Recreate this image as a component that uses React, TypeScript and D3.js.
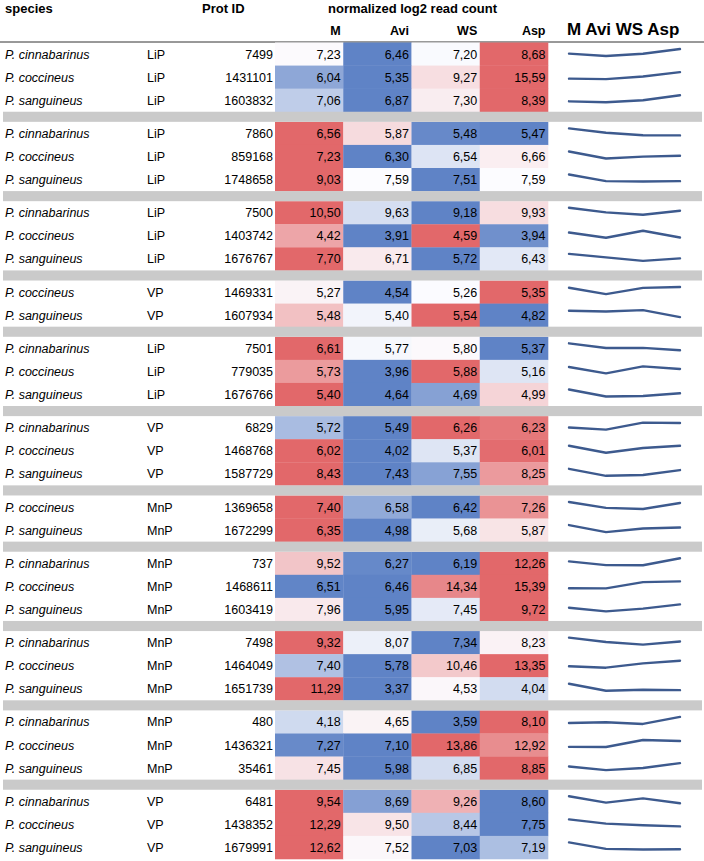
import React from "react";
import * as d3 from "d3";

const columns = ["M", "Avi", "WS", "Asp"];
const groupSizes = [3, 3, 3, 2, 3, 3, 2, 3, 3, 3, 3];

const species = [
  "P. cinnabarinus", "P. coccineus", "P. sanguineus",
  "P. cinnabarinus", "P. coccineus", "P. sanguineus",
  "P. cinnabarinus", "P. coccineus", "P. sanguineus",
  "P. coccineus", "P. sanguineus",
  "P. cinnabarinus", "P. coccineus", "P. sanguineus",
  "P. cinnabarinus", "P. coccineus", "P. sanguineus",
  "P. coccineus", "P. sanguineus",
  "P. cinnabarinus", "P. coccineus", "P. sanguineus",
  "P. cinnabarinus", "P. coccineus", "P. sanguineus",
  "P. cinnabarinus", "P. coccineus", "P. sanguineus",
  "P. cinnabarinus", "P. coccineus", "P. sanguineus",
];

const types = [
  "LiP", "LiP", "LiP",
  "LiP", "LiP", "LiP",
  "LiP", "LiP", "LiP",
  "VP", "VP",
  "LiP", "LiP", "LiP",
  "VP", "VP", "VP",
  "MnP", "MnP",
  "MnP", "MnP", "MnP",
  "MnP", "MnP", "MnP",
  "MnP", "MnP", "MnP",
  "VP", "VP", "VP",
];

const protIds = [
  "7499", "1431101", "1603832",
  "7860", "859168", "1748658",
  "7500", "1403742", "1676767",
  "1469331", "1607934",
  "7501", "779035", "1676766",
  "6829", "1468768", "1587729",
  "1369658", "1672299",
  "737", "1468611", "1603419",
  "7498", "1464049", "1651739",
  "480", "1436321", "35461",
  "6481", "1438352", "1679991",
];

const mVals = [
  7.23, 6.04, 7.06,
  6.56, 7.23, 9.03,
  10.5, 4.42, 7.7,
  5.27, 5.48,
  6.61, 5.73, 5.4,
  5.72, 6.02, 8.43,
  7.4, 6.35,
  9.52, 6.51, 7.96,
  9.32, 7.4, 11.29,
  4.18, 7.27, 7.45,
  9.54, 12.29, 12.62,
];
const aviVals = [
  6.46, 5.35, 6.87,
  5.87, 6.3, 7.59,
  9.63, 3.91, 6.71,
  4.54, 5.4,
  5.77, 3.96, 4.64,
  5.49, 4.02, 7.43,
  6.58, 4.98,
  6.27, 6.46, 5.95,
  8.07, 5.78, 3.37,
  4.65, 7.1, 5.98,
  8.69, 9.5, 7.52,
];
const wsVals = [
  7.2, 9.27, 7.3,
  5.48, 6.54, 7.51,
  9.18, 4.59, 5.72,
  5.26, 5.54,
  5.8, 5.88, 4.69,
  6.26, 5.37, 7.55,
  6.42, 5.68,
  6.19, 14.34, 7.45,
  7.34, 10.46, 4.53,
  3.59, 13.86, 6.85,
  9.26, 8.44, 7.03,
];
const aspVals = [
  8.68, 15.59, 8.39,
  5.47, 6.66, 7.59,
  9.93, 3.94, 6.43,
  5.35, 4.82,
  5.37, 5.16, 4.99,
  6.23, 6.01, 8.25,
  7.26, 5.87,
  12.26, 15.39, 9.72,
  8.23, 13.35, 4.04,
  8.1, 12.92, 8.85,
  8.6, 7.75, 7.19,
];

const FONT = "'Liberation Sans', Arial, sans-serif";
const BLUE = "#5F83C6";
const WHITE = "#FCFCFF";
const RED = "#E2686A";

export default function App() {
  const width = 704;
  const height = 861;
  const top = 42.5;
  const rowH = 23.08;
  const gapH = 10.1;

  // compute row tops & band positions
  const rowTops: number[] = [];
  const bands: number[] = [];
  let y = top;
  groupSizes.forEach((n, gi) => {
    for (let i = 0; i < n; i++) {
      rowTops.push(y);
      y += rowH;
    }
    if (gi < groupSizes.length - 1) {
      bands.push(y);
      y += gapH;
    }
  });

  const xCell = d3.scaleBand<string>().domain(columns).range([275, 548]).padding(0);
  const xSpark = d3.scalePoint<string>().domain(columns).range([569, 680]);

  const fmt = (v: number) => v.toFixed(2).replace(".", ",");

  const rows = species.map((sp, i) => {
    const vals = [mVals[i], aviVals[i], wsVals[i], aspVals[i]];
    const mn = d3.min(vals) as number;
    const mx = d3.max(vals) as number;
    const md = d3.median(vals) as number;
    const color = d3
      .scaleLinear<string>()
      .domain([mn, md, mx])
      .range([BLUE, WHITE, RED])
      .interpolate(d3.interpolateRgb);
    const t = rowTops[i];
    const c = t + rowH / 2;
    const ySp = d3.scaleLinear().domain([mn, mx]).range([c + 2, c - 5]);
    const line = d3
      .line<number>()
      .x((_, k) => xSpark(columns[k]) as number)
      .y((v) => ySp(v));
    return { sp, i, vals, color, t, c, line: line(vals) as string };
  });

  return (
    <svg width={width} height={height} style={{ position: "absolute", left: 0, top: 0, background: "#fff" }}>
      <rect x={0} y={0} width={width} height={height} fill="#fff" />
      {/* header */}
      <g fontFamily={FONT} fontWeight="bold" fill="#000">
        <text x={5} y={13} fontSize={13}>species</text>
        <text x={202} y={13} fontSize={13}>Prot ID</text>
        <text x={328} y={13} fontSize={13}>normalized log2 read count</text>
        {columns.map((col) => (
          <text key={col} x={(xCell(col) as number) + xCell.bandwidth() - 2.5} y={35} fontSize={12.5} textAnchor="end">
            {col}
          </text>
        ))}
        <text x={567} y={35} fontSize={17}>M Avi WS Asp</text>
      </g>
      <line x1={0} x2={width} y1={42} y2={42} stroke="#333" strokeWidth={1} />

      {/* cells */}
      {rows.map((r) =>
        columns.map((col, k) => (
          <rect
            key={`c${r.i}-${col}`}
            x={xCell(col) as number}
            y={r.t}
            width={xCell.bandwidth() + 0.3}
            height={rowH + 0.3}
            fill={r.color(r.vals[k])}
          />
        ))
      )}

      {/* grey separators */}
      {bands.map((b, j) => (
        <rect key={`b${j}`} x={3} y={b} width={699} height={gapH} fill="#CACACA" />
      ))}

      {/* text */}
      <g fontFamily={FONT} fontSize={12.5} fill="#000">
        {rows.map((r) => (
          <g key={`t${r.i}`}>
            <text x={5} y={r.c + 4.5} fontStyle="italic">{r.sp}</text>
            <text x={147} y={r.c + 4.5}>{types[r.i]}</text>
            <text x={273} y={r.c + 4.5} textAnchor="end">{protIds[r.i]}</text>
            {columns.map((col, k) => (
              <text
                key={col}
                x={(xCell(col) as number) + xCell.bandwidth() - 2.5}
                y={r.c + 4.5}
                textAnchor="end"
              >
                {fmt(r.vals[k])}
              </text>
            ))}
          </g>
        ))}
      </g>

      {/* sparklines */}
      {rows.map((r) => (
        <path
          key={`s${r.i}`}
          d={r.line}
          fill="none"
          stroke="#3D5A8E"
          strokeWidth={2.4}
          strokeLinejoin="round"
          strokeLinecap="round"
        />
      ))}
    </svg>
  );
}
